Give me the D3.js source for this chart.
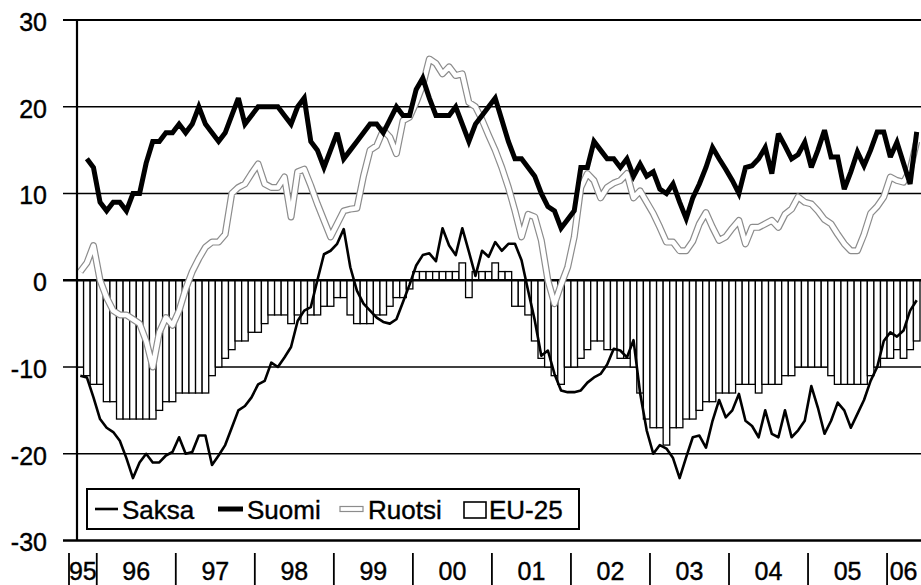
<!DOCTYPE html>
<html><head><meta charset="utf-8">
<script src="https://cdn.jsdelivr.net/npm/d3@7"></script>
<style>html,body{margin:0;padding:0;background:#fff;} svg{display:block;}</style>
</head><body><svg id="chart" width="921" height="585"></svg>
<script>
// ---- data (monthly, Oct 1995 – May 2006) ----
const months = d3.timeMonth.range(new Date(1995, 9, 1), new Date(2006, 5, 1));
const yearLabels = ["95","96","97","98","99","00","01","02","03","04","05","06"];
const yTicks = [30, 20, 10, 0, -10, -20, -30];
const seriesNames = ["Saksa", "Suomi", "Ruotsi", "EU-25"];

const saksa = [-11,-11.2,-13.5,-16,-17,-17.5,-18.5,-20.5,-22.8,-21,-20,-21,-21,-20.2,-19.8,-18.1,-20,-19.8,-17.9,-17.9,
 -21.3,-20.2,-19,-17,-15,-14.5,-13.5,-12,-11.6,-9.5,-10,-8.9,-7.7,-4.7,-3.5,-3.1,0,3,3.4,4.2,
 5.9,1.5,-1.2,-2.7,-3.5,-4.3,-4.8,-5,-4.5,-2.5,-0.5,1.7,2.9,3.1,2.2,6,4,2.9,6,3.3,
 0.5,3.4,2.7,4.4,3.4,4.2,4.2,2.3,-1.2,-4.6,-8.7,-8.1,-10.8,-12.7,-12.9,-12.9,-12.7,-11.8,-11.2,-10.8,
 -9.7,-7.9,-8.1,-8.9,-6.9,-13,-17.3,-20,-19,-19.4,-20.5,-22.8,-20.4,-18.1,-17.9,-19.3,-16.2,-13.8,-15.8,-15,
 -13.1,-16.2,-16.8,-18.1,-15,-17.7,-18.1,-15,-18.1,-17.3,-16.2,-12.2,-14.7,-17.7,-16.2,-14.1,-15,-17,-15.4,-13.8,
 -11.6,-10,-7,-6,-6.5,-5.8,-3.5,-2.3];

const suomi = [null,14,13,9,8,9,9,8,10,10,13.5,16,16,17,17,18,17,18,20,18,
 17,16,17,19,21,18,19,20,20,20,20,19,18,20,21,16,15,13,15,17,
 14,15,16,17,18,18,17,18.5,20,19,19,22,23.3,21,19,19,19,20,18,16,
 18,19,20,21,18.5,16,14,14,13,12,10,8.5,8,6,7,8,13,13,16,15,
 14,14,13,14,12,13.4,12,12.5,10.5,10,11.1,9,7.1,9.5,11.1,13,15.3,14,12.8,11.5,
 10,13,13.2,14,15.3,12.3,16.9,15.5,14,14.5,15.9,13,15,17.3,14.2,14.2,10.5,12.5,14.8,13.2,
 15,17.1,17.1,14.2,15.9,13.5,11.1,17.1];

const ruotsi = [1,2,4,0,-2,-3.5,-4,-4,-4.5,-5,-7,-10,-6,-4.3,-5.2,-3.5,-1,1,2.5,3.8,
 4.4,4.4,5.3,10,10.7,11.1,12.3,13.4,11.1,10.7,10.7,11.9,7.3,12.5,12.8,10.9,8.8,6.9,5,6.5,
 8,8.2,8.3,12,15,15.5,17.3,16.5,14.6,18.4,18.8,20.5,22.5,25.5,25,23.8,24.6,23.6,23.8,20.5,
 20,18.5,16.7,15,13,10.7,8,5,7.6,7.3,4.6,0,-2.7,-0.5,1.5,5,10.7,12.3,11.5,9.5,
 10.7,11.2,11.5,12.3,9.5,10.3,9,7.7,6.1,4.4,4.4,3.4,3.4,4.5,6.5,7.8,6.1,4.6,5,6,
 6.9,4.2,6.1,6.1,6.5,6.9,6.1,7.6,8.2,9.6,9,8.8,8,7,6.5,5.3,4.2,3.4,3.4,5.3,
 7.7,8.5,9.6,11.9,11.5,11.3,12.7,16];

const eu25 = [-10,-11,-12,-12,-14,-14,-16,-16,-16,-16,-16,-16,-15,-14,-14,-13,-13,-13,-13,-13,
 -11,-10,-9,-8,-7,-7,-6,-6,-5,-4,-4,-4,-5,-4,-5,-4,-4,-3,-3,-2,
 -2,-4,-5,-5,-5,-4,-4,-3,-2,-2,-1,1,1,1,1,1,1,1,2,-2,
 1,1,1,2,1,1,-3,-3,-4,-7,-9,-10,-11,-12,-10,-10,-9,-8,-7,-7,
 -8,-8,-9,-9,-10,-13,-16,-17,-17,-19,-17,-17,-16,-16,-15,-14,-14,-13,-13,-13,
 -12,-12,-12,-13,-12,-12,-12,-11,-11,-10,-10,-10,-10,-10,-11,-12,-12,-12,-12,-12,
 -11,-10,-9,-9,-8,-9,-8,-7];

// ---- chart ----
const svg = d3.select("#chart");
const W = 921;
const font = "'Liberation Sans', Arial, sans-serif";
const x = d3.scaleBand().domain(d3.range(months.length)).range([77, 920]).paddingInner(0).paddingOuter(0);
const y = d3.scaleLinear().domain([-30, 30]).range([540.5, 20]);
const bw = x.bandwidth();
const cx = i => x(i) + bw / 2;

// gridlines (behind bars)
svg.append("g").selectAll("line").data(yTicks.filter(t => t !== 0)).join("line")
  .attr("x1", 63).attr("x2", W)
  .attr("y1", d => y(d)).attr("y2", d => y(d))
  .attr("stroke", "#000")
  .attr("stroke-width", d => (d === -30 ? 2.5 : d === 30 ? 2 : 1.6));

// y labels
svg.append("g").selectAll("text").data(yTicks).join("text")
  .attr("x", 47).attr("y", d => y(d) + 2 + 0.358 * 25)
  .attr("text-anchor", "end")
  .attr("font-family", font).attr("font-size", 25)
  .attr("fill", "#000").attr("stroke", "#000").attr("stroke-width", 0.4)
  .text(d => d);

// EU-25 bars
svg.append("g").selectAll("rect").data(eu25).join("rect")
  .attr("x", (d, i) => x(i))
  .attr("width", bw)
  .attr("y", d => y(Math.max(0, d)))
  .attr("height", d => Math.abs(y(d) - y(0)))
  .attr("fill", "#fff").attr("stroke", "#000").attr("stroke-width", 1.3);

// zero line
svg.append("line").attr("x1", 63).attr("x2", W).attr("y1", y(0)).attr("y2", y(0))
  .attr("stroke", "#000").attr("stroke-width", 2.6);

const line = d3.line().defined(d => d != null).x((d, i) => cx(i)).y(d => y(d));

// Ruotsi: double line (grey edges, white centre)
svg.append("path").datum(ruotsi).attr("d", line)
  .attr("fill", "none").attr("stroke", "#8c8c8c").attr("stroke-width", 7)
  .attr("stroke-linejoin", "round");
svg.append("path").datum(ruotsi).attr("d", line)
  .attr("fill", "none").attr("stroke", "#fff").attr("stroke-width", 4.6)
  .attr("stroke-linejoin", "round");

// Saksa
svg.append("path").datum(saksa).attr("d", line)
  .attr("fill", "none").attr("stroke", "#000").attr("stroke-width", 2.6)
  .attr("stroke-linejoin", "round");

// Suomi
svg.append("path").datum(suomi).attr("d", line)
  .attr("fill", "none").attr("stroke", "#000").attr("stroke-width", 5)
  .attr("stroke-linejoin", "miter").attr("stroke-miterlimit", 3);

// left axis line
svg.append("line").attr("x1", 77).attr("x2", 77).attr("y1", y(30)).attr("y2", y(-30))
  .attr("stroke", "#000").attr("stroke-width", 2.2);

// x axis: year separators and labels
const janIdx = months.map((m, i) => (m.getMonth() === 0 ? i : -1)).filter(i => i >= 0);
const seps = [x(0) - 8].concat(janIdx.map(i => x(i)));
const bounds = seps.concat([W - 1]);
svg.append("g").selectAll("line").data(seps).join("line")
  .attr("x1", d => d).attr("x2", d => d).attr("y1", 553).attr("y2", 585)
  .attr("stroke", "#000").attr("stroke-width", 1.8);
svg.append("g").selectAll("text").data(yearLabels).join("text")
  .attr("x", (d, i) => (bounds[i] + bounds[i + 1]) / 2)
  .attr("y", 580)
  .attr("text-anchor", "middle")
  .attr("font-family", font).attr("font-size", 25)
  .attr("fill", "#000").attr("stroke", "#000").attr("stroke-width", 0.4)
  .text(d => d);

// legend
const lg = svg.append("g");
lg.append("rect").attr("x", 87).attr("y", 489).attr("width", 492).attr("height", 40)
  .attr("fill", "#fff").attr("stroke", "#000").attr("stroke-width", 2);
const ly = 509;
lg.append("line").attr("x1", 95).attr("x2", 118).attr("y1", ly).attr("y2", ly)
  .attr("stroke", "#000").attr("stroke-width", 2.6);
lg.append("line").attr("x1", 218).attr("x2", 243).attr("y1", ly).attr("y2", ly)
  .attr("stroke", "#000").attr("stroke-width", 5);
lg.append("rect").attr("x", 340).attr("y", ly - 2.5).attr("width", 23).attr("height", 5)
  .attr("fill", "#fff").attr("stroke", "#8c8c8c").attr("stroke-width", 1.2);
lg.append("rect").attr("x", 464).attr("y", 502).attr("width", 22).attr("height", 16)
  .attr("fill", "#fff").attr("stroke", "#000").attr("stroke-width", 1.6);
const textX = [122, 247, 368, 489];
lg.selectAll("text").data(seriesNames).join("text")
  .attr("x", (d, i) => textX[i]).attr("y", 519)
  .attr("font-family", font).attr("font-size", 26)
  .attr("fill", "#000").attr("stroke", "#000").attr("stroke-width", 0.4)
  .text(d => d);
</script></body></html>
